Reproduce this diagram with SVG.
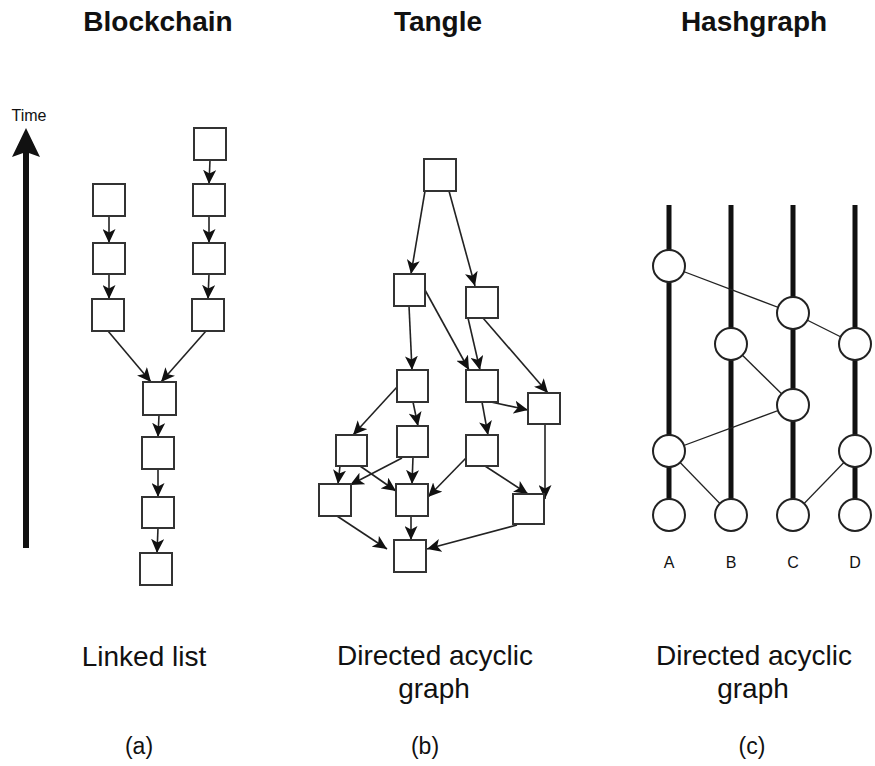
<svg xmlns="http://www.w3.org/2000/svg" width="875" height="766" viewBox="0 0 875 766">
<defs>
<marker id="ah" markerUnits="userSpaceOnUse" markerWidth="15" markerHeight="13" refX="14" refY="6.5" orient="auto">
<path d="M0,0 L14,6.5 L0,13 L3.5,6.5 Z" fill="#111"/>
</marker>
<style>
.title{font-family:"Liberation Sans",Arial,sans-serif;font-weight:bold;font-size:28px;fill:#111;text-anchor:middle}
.lbl{font-family:"Liberation Sans",Arial,sans-serif;font-size:28px;fill:#111;text-anchor:middle}
.sub{font-family:"Liberation Sans",Arial,sans-serif;font-size:23px;fill:#111;text-anchor:middle}
.small{font-family:"Liberation Sans",Arial,sans-serif;font-size:16px;fill:#111;text-anchor:middle}
.box{fill:#fff;stroke:#333;stroke-width:2}
.edge{stroke:#222;stroke-width:1.6;fill:none;marker-end:url(#ah)}
.thin{stroke:#222;stroke-width:1.3;fill:none}
.line{stroke:#111;stroke-width:5}
.ev{fill:#fff;stroke:#222;stroke-width:2}
</style>
</defs>
<rect width="875" height="766" fill="#fff"/>

<!-- Titles -->
<text class="title" x="158" y="31">Blockchain</text>
<text class="title" x="438" y="31">Tangle</text>
<text class="title" x="754" y="31">Hashgraph</text>

<!-- Time axis -->
<g id="time">
<text class="small" x="29" y="121">Time</text>
<line x1="26" y1="548" x2="26" y2="150" stroke="#111" stroke-width="6"/>
<polygon points="26,128 40,157 26,152 12,157" fill="#111"/>
</g>

<!-- Blockchain connectors -->
<g id="bc-edges">
<line class="edge" x1="109" y1="216" x2="109" y2="243"/>
<line class="edge" x1="109" y1="274" x2="109" y2="299"/>
<line class="edge" x1="210" y1="160" x2="209" y2="184"/>
<line class="edge" x1="209" y1="216" x2="209" y2="243"/>
<line class="edge" x1="209" y1="274" x2="208" y2="299"/>
<line class="edge" x1="108" y1="331" x2="151" y2="382"/>
<line class="edge" x1="206" y1="331" x2="161" y2="382"/>
<line class="edge" x1="159" y1="415" x2="158" y2="437"/>
<line class="edge" x1="158" y1="469" x2="158" y2="497"/>
<line class="edge" x1="158" y1="528" x2="157" y2="553"/>
</g>
<g id="bc-L1"><rect class="box" x="93" y="184" width="32" height="32"/></g>
<g id="bc-L2"><rect class="box" x="93" y="243" width="32" height="31"/></g>
<g id="bc-L3"><rect class="box" x="92" y="299" width="32" height="32"/></g>
<g id="bc-R1"><rect class="box" x="194" y="128" width="32" height="32"/></g>
<g id="bc-R2"><rect class="box" x="193" y="184" width="32" height="32"/></g>
<g id="bc-R3"><rect class="box" x="193" y="243" width="32" height="31"/></g>
<g id="bc-R4"><rect class="box" x="192" y="299" width="32" height="32"/></g>
<g id="bc-C1"><rect class="box" x="143" y="382" width="33" height="33"/></g>
<g id="bc-C2"><rect class="box" x="142" y="437" width="32" height="32"/></g>
<g id="bc-C3"><rect class="box" x="142" y="497" width="32" height="31"/></g>
<g id="bc-C4"><rect class="box" x="140" y="553" width="32" height="32"/></g>

<!-- Tangle connectors -->
<g id="tg-edges">
<line class="edge" x1="425" y1="191" x2="411" y2="274"/>
<line class="edge" x1="449" y1="191" x2="475" y2="286"/>
<line class="edge" x1="409" y1="306" x2="412" y2="370"/>
<line class="edge" x1="425" y1="290" x2="469" y2="370"/>
<line class="edge" x1="468" y1="318" x2="480" y2="370"/>
<line class="edge" x1="483" y1="318" x2="548" y2="393"/>
<line class="edge" x1="397" y1="387" x2="353" y2="435"/>
<line class="edge" x1="413" y1="402" x2="418" y2="426"/>
<line class="edge" x1="482" y1="402" x2="488" y2="435"/>
<line class="edge" x1="491" y1="402" x2="528" y2="410"/>
<line class="edge" x1="545" y1="424" x2="545" y2="499"/>
<line class="edge" x1="340" y1="466" x2="338" y2="484"/>
<line class="edge" x1="360" y1="466" x2="396" y2="491"/>
<line class="edge" x1="402" y1="458" x2="350" y2="485"/>
<line class="edge" x1="413" y1="457" x2="412" y2="484"/>
<line class="edge" x1="466" y1="458" x2="428" y2="497"/>
<line class="edge" x1="485" y1="466" x2="528" y2="494"/>
<line class="edge" x1="337" y1="516" x2="387" y2="549"/>
<line class="edge" x1="411" y1="516" x2="411" y2="540"/>
<line class="edge" x1="517" y1="525" x2="427" y2="549"/>
</g>
<g id="tg-top"><rect class="box" x="424" y="159" width="32" height="32"/></g>
<g id="tg-l1"><rect class="box" x="394" y="274" width="31" height="32"/></g>
<g id="tg-r1"><rect class="box" x="466" y="287" width="32" height="31"/></g>
<g id="tg-a"><rect class="box" x="397" y="370" width="31" height="32"/></g>
<g id="tg-b"><rect class="box" x="466" y="370" width="32" height="32"/></g>
<g id="tg-c"><rect class="box" x="528" y="393" width="32" height="31"/></g>
<g id="tg-d"><rect class="box" x="336" y="435" width="31" height="31"/></g>
<g id="tg-e"><rect class="box" x="397" y="426" width="31" height="31"/></g>
<g id="tg-f"><rect class="box" x="466" y="435" width="32" height="31"/></g>
<g id="tg-g"><rect class="box" x="319" y="484" width="32" height="32"/></g>
<g id="tg-h"><rect class="box" x="396" y="484" width="32" height="32"/></g>
<g id="tg-i"><rect class="box" x="513" y="494" width="31" height="30"/></g>
<g id="tg-j"><rect class="box" x="394" y="540" width="32" height="32"/></g>

<!-- Hashgraph -->
<g id="hg-lines">
<line class="line" x1="669" y1="205" x2="669" y2="500"/>
<line class="line" x1="731" y1="205" x2="731" y2="500"/>
<line class="line" x1="793" y1="205" x2="793" y2="500"/>
<line class="line" x1="855" y1="205" x2="855" y2="500"/>
</g>
<g id="hg-edges">
<line class="thin" x1="669" y1="266" x2="793" y2="313"/>
<line class="thin" x1="793" y1="313" x2="855" y2="344"/>
<line class="thin" x1="731" y1="344" x2="793" y2="405"/>
<line class="thin" x1="793" y1="405" x2="669" y2="451"/>
<line class="thin" x1="669" y1="451" x2="731" y2="515"/>
<line class="thin" x1="855" y1="451" x2="793" y2="515"/>
</g>
<g id="hg-A1"><circle class="ev" cx="669" cy="266" r="16"/></g>
<g id="hg-C1"><circle class="ev" cx="793" cy="313" r="16"/></g>
<g id="hg-B1"><circle class="ev" cx="731" cy="344" r="16"/></g>
<g id="hg-D1"><circle class="ev" cx="855" cy="344" r="16"/></g>
<g id="hg-C2"><circle class="ev" cx="793" cy="405" r="16"/></g>
<g id="hg-A2"><circle class="ev" cx="669" cy="451" r="16"/></g>
<g id="hg-D2"><circle class="ev" cx="855" cy="451" r="16"/></g>
<g id="hg-A3"><circle class="ev" cx="669" cy="515" r="16"/></g>
<g id="hg-B2"><circle class="ev" cx="731" cy="515" r="16"/></g>
<g id="hg-C3"><circle class="ev" cx="793" cy="515" r="16"/></g>
<g id="hg-D3"><circle class="ev" cx="855" cy="515" r="16"/></g>
<g id="hg-labels">
<text class="small" x="669" y="568">A</text>
<text class="small" x="731" y="568">B</text>
<text class="small" x="793" y="568">C</text>
<text class="small" x="855" y="568">D</text>
</g>

<!-- Captions -->
<text class="lbl" x="144" y="666">Linked list</text>
<text class="lbl" x="435" y="665">Directed acyclic</text>
<text class="lbl" x="434" y="698">graph</text>
<text class="lbl" x="754" y="665">Directed acyclic</text>
<text class="lbl" x="753" y="698">graph</text>
<text class="sub" x="139" y="754">(a)</text>
<text class="sub" x="425" y="754">(b)</text>
<text class="sub" x="752" y="754">(c)</text>
</svg>
